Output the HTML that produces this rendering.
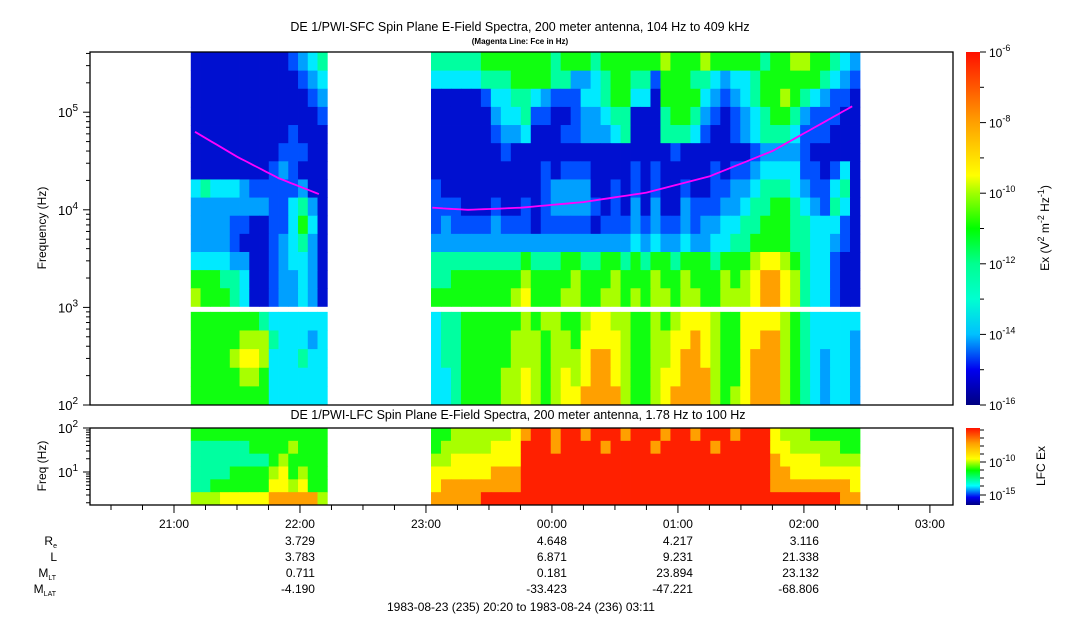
<!DOCTYPE html>
<html><head><meta charset="utf-8">
<style>
html,body{margin:0;padding:0;background:#fff;}
svg{display:block;font-family:"Liberation Sans",sans-serif;}
</style></head>
<body>
<svg id="chart" width="1083" height="620" viewBox="0 0 1083 620" xmlns="http://www.w3.org/2000/svg">
<defs>
<linearGradient id="cbar" x1="0" y1="1" x2="0" y2="0">
<stop offset="0" stop-color="#000080"/><stop offset="0.1" stop-color="#0000f0"/>
<stop offset="0.2" stop-color="#00c0ff"/><stop offset="0.3" stop-color="#00ffd0"/>
<stop offset="0.4" stop-color="#00ff90"/><stop offset="0.5" stop-color="#00ff00"/>
<stop offset="0.6" stop-color="#a0ff00"/><stop offset="0.65" stop-color="#ffff00"/>
<stop offset="0.8" stop-color="#ffa000"/><stop offset="1" stop-color="#ff1000"/>
</linearGradient>
<linearGradient id="cbar2" x1="0" y1="1" x2="0" y2="0">
<stop offset="0" stop-color="#000080"/><stop offset="0.1" stop-color="#0000f0"/>
<stop offset="0.25" stop-color="#00ffff"/><stop offset="0.45" stop-color="#00ff00"/>
<stop offset="0.6" stop-color="#ffff00"/><stop offset="0.8" stop-color="#ffa000"/><stop offset="1" stop-color="#ff1000"/>
</linearGradient>
</defs>
<text x="520" y="31" text-anchor="middle" font-size="12.5">DE 1/PWI-SFC  Spin Plane E-Field Spectra, 200 meter antenna, 104 Hz to 409 kHz</text>
<text x="520" y="44" text-anchor="middle" font-size="8" font-weight="bold">(Magenta Line: Fce in Hz)</text>
<text x="518" y="419" text-anchor="middle" font-size="12.5">DE 1/PWI-LFC  Spin Plane E-Field Spectra, 200 meter antenna, 1.78 Hz to 100 Hz</text>
<g id="heat"></g><g id="lfc"></g><g id="fce"></g><g id="axes"></g>
<text transform="translate(46,228) rotate(-90)" text-anchor="middle" font-size="12">Frequency (Hz)</text>
<text transform="translate(46,466) rotate(-90)" text-anchor="middle" font-size="12">Freq (Hz)</text>
<rect x="966" y="52" width="14" height="353" fill="url(#cbar)"/>
<rect x="966" y="428" width="14" height="77" fill="url(#cbar2)"/>
<text transform="translate(1049,228) rotate(-90)" text-anchor="middle" font-size="12">Ex (V<tspan dy="-5" font-size="9">2</tspan><tspan dy="5"> m</tspan><tspan dy="-5" font-size="9">-2</tspan><tspan dy="5"> Hz</tspan><tspan dy="-5" font-size="9">-1</tspan><tspan dy="5">)</tspan></text>
<text transform="translate(1045,466) rotate(-90)" text-anchor="middle" font-size="12">LFC Ex</text>
<g id="eph" font-size="12"></g>
<text x="521" y="611" text-anchor="middle" font-size="12">1983-08-23 (235) 20:20 to 1983-08-24 (236) 03:11</text>
</svg>
<script>
// ---- data ----
const palette=["#000080","#0010d0","#0050ff","#00a0ff","#00eaff","#00ffa0","#10ff10","#a8ff00","#ffff00","#ffa000","#ff2000"];
const seg1Start=48, seg1End=113, seg2Start=162.4, seg2End=366.7; // minutes after 20:20
const sfcUpper1=["11111111112345","11111111111234","11111111111123","11111111111112","11111111112111","11111111122211","11111111232111","45444322222311","33333333224531","33332211224641","33332111234531","44443311234431","66655411233431","76665411233431"];
const sfcUpper2=[
"5555566666"+"6656665666"+"6667666766"+"6665667766"+"543",
"4444455566"+"6655334566"+"5526665543"+"4456666665"+"432",
"1111124455"+"4322244566"+"4416666432"+"3456676543"+"221",
"1111113445"+"2211233455"+"1115665321"+"2345665322"+"211",
"1111112334"+"1112233345"+"1115554211"+"2345554222"+"111",
"1111111211"+"1111111111"+"1111211111"+"1123333211"+"111",
"1111111111"+"1212221111"+"2121111121"+"2234444221"+"241",
"2111111111"+"1233331121"+"2121121122"+"3345554322"+"451",
"2221112112"+"1233332121"+"3131132223"+"3455665432"+"541",
"2322223222"+"1222221222"+"3232232334"+"4556665544"+"421",
"3333333333"+"3333333333"+"4343343344"+"5566665544"+"321",
"5555555556"+"5556655665"+"6566566656"+"6678876544"+"211",
"5566666667"+"6666766676"+"6676676667"+"6789987544"+"211",
"6666666678"+"6667766776"+"7677677667"+"7789987544"+"211"];
const sfcLower1=["66666665444444","66666777544434","66667887444544","66666776444444","66666666444444"];
const sfcLower2=[
"4556666667"+"6776678877"+"6676788876"+"6888876544"+"444",
"4556666677"+"7677688887"+"6677889876"+"6889976544"+"443",
"4556666677"+"7677789987"+"6677899876"+"6899976543"+"443",
"4456666778"+"7678789987"+"6678899976"+"6899976543"+"443",
"4456666778"+"7678899997"+"6678999976"+"7899976543"+"443"];
const lfc1=["66666666666666","55555566667666","55555555676666","55556666786766","55666666887866","77788888999997"];
const lfc2=["6677777789aa9aa9aaa9aaa9aa9aaa9aaa877766666","677777888aaa9aaaa9aaaa9aaaaa9aaaaa887777766","778888888aaaaaaaaaaaaaaaaaaaaaaaaa988887777","888888999aaaaaaaaaaaaaaaaaaaaaaaaa998888888","899999999aaaaaaaaaaaaaaaaaaaaaaaaa999999998","99999aaaaaaaaaaaaaaaaaaaaaaaaaaaaaaaaaaaa99"];
const fceTimes1=[50,70,90,109], fceVals1=[63000,35000,21000,14500];
const fceTimes2=[163,180,205,235,265,295,325,350,363], fceVals2=[10500,10000,10500,12000,15000,22000,40000,80000,115000];
const hourLabels=["21:00","22:00","23:00","00:00","01:00","02:00","03:00"];
const hourMinutes=[40,100,160,220,280,340,400];
const ephNames=["R","L","M","M"];
const ephSubs=["e","","LT","LAT"];
const ephMinutes=[100,220,280,340];
const ephRe=["3.729","4.648","4.217","3.116"];
const ephL=["3.783","6.871","9.231","21.338"];
const ephMLT=["0.711","0.181","23.894","23.132"];
const ephMLAT=["-4.190","-33.423","-47.221","-68.806"];
// ---- scales ----
const X0=90,X1=953,TMAX=411;
const xs=t=>X0+t*(X1-X0)/TMAX;
const yf=f=>405-(Math.log10(f)-2)*97.6;
const yl=f=>428+(2-Math.log10(f))*44;
const NS="http://www.w3.org/2000/svg";
function mk(tag,attrs,parent){const e=document.createElementNS(NS,tag);for(const k in attrs)e.setAttribute(k,attrs[k]);parent.appendChild(e);return e;}
const heat=document.getElementById('heat'),lfcG=document.getElementById('lfc'),axes=document.getElementById('axes'),fceG=document.getElementById('fce'),eph=document.getElementById('eph');
function drawBlock(rows,t0,t1,yTop,yBot,parent,name){
  const nr=rows.length;
  rows.forEach((row,ri)=>{
    const n=row.length;
    for(let c=0;c<n;c++){
      const xa=xs(t0+(t1-t0)*c/n), xb=xs(t0+(t1-t0)*(c+1)/n);
      const ya=yTop+(yBot-yTop)*ri/nr, yb=yTop+(yBot-yTop)*(ri+1)/nr;
      const r=mk('rect',{x:xa.toFixed(2),y:ya.toFixed(2),width:(xb-xa+0.4).toFixed(2),height:(yb-ya+0.4).toFixed(2),fill:palette[parseInt(row[c],16)]},parent);
      
      
    }
  });
}
drawBlock(sfcUpper1,seg1Start,seg1End,yf(409000),yf(1000)-1,heat,'sfc-cell');
drawBlock(sfcUpper2,seg2Start,seg2End,yf(409000),yf(1000)-1,heat,'sfc-cell');
drawBlock(sfcLower1,seg1Start,seg1End,yf(900),405,heat,'sfc-cell');
drawBlock(sfcLower2,seg2Start,seg2End,yf(900),405,heat,'sfc-cell');
drawBlock(lfc1,seg1Start,seg1End,428,505,lfcG,'lfc-cell');
drawBlock(lfc2,seg2Start,seg2End,428,505,lfcG,'lfc-cell');
function fceLine(ts,vs){
  let d='';
  for(let i=0;i<ts.length-1;i++){
    for(let k=0;k<=10;k++){
      const u=k/10;const t=ts[i]+(ts[i+1]-ts[i])*u;
      const lv=Math.log10(vs[i])+(Math.log10(vs[i+1])-Math.log10(vs[i]))*u;
      d+=(d?'L':'M')+xs(t).toFixed(1)+','+yf(Math.pow(10,lv)).toFixed(1);
    }
  }
  const p=mk('path',{d:d,fill:'none',stroke:'#ff00ff','stroke-width':'1.8'},fceG);
  
  
}
fceLine(fceTimes1,fceVals1);fceLine(fceTimes2,fceVals2);
const f1=mk('rect',{x:X0,y:52,width:X1-X0,height:353,fill:'none',stroke:'#000','stroke-width':'1.3'},axes);


const f2=mk('rect',{x:X0,y:428,width:X1-X0,height:77,fill:'none',stroke:'#000','stroke-width':'1.3'},axes);


for(let d=2;d<=5;d++){
  for(let m=1;m<=9;m++){
    const f=m*Math.pow(10,d); if(f>409000) continue;
    const y=yf(f);
    mk('line',{x1:X0-(m==1?7:4),x2:X0,y1:y,y2:y,stroke:'#000'},axes);
  }
  const y=d==2?405:yf(Math.pow(10,d));
  const t=mk('text',{x:78,y:y+5,'text-anchor':'end','font-size':'13'},axes);
  t.innerHTML='10<tspan dy="-6" font-size="10">'+d+'</tspan>';
  
  
}
[2,3,4,5,6,7,8,9,10,20,30,40,50,60,70,80,90,100].forEach(f=>{
  const y=yl(f);const maj=(f==10||f==100);
  mk('line',{x1:X0-(maj?7:4),x2:X0,y1:y,y2:y,stroke:'#000'},axes);
});
[[1,10],[2,100]].forEach(([e,f])=>{
  const t=mk('text',{x:78,y:yl(f)+5,'text-anchor':'end','font-size':'13'},axes);
  t.innerHTML='10<tspan dy="-6" font-size="10">'+e+'</tspan>';
  
  
});
for(let t=10;t<=TMAX;t+=15){
  const x=xs(t);const maj=((t-40)%60==0);
  mk('line',{x1:x,x2:x,y1:505,y2:505+(maj?8:5),stroke:'#000'},axes);
}
hourLabels.forEach((lab,i)=>{
  const t=mk('text',{x:xs(hourMinutes[i]),y:528,'text-anchor':'middle','font-size':'12'},axes);
  t.textContent=lab;
  
  
});
for(let i=0;i<=10;i++){
  const y=405-i*35.3;
  mk('line',{x1:980,x2:980+(i%2==0?6:4),y1:y,y2:y,stroke:'#000'},axes);
  if(i%2==0){
    const t=mk('text',{x:989,y:y+5,'font-size':'12'},axes);
    t.innerHTML='10<tspan dy="-6" font-size="9">'+(-16+i)+'</tspan>';
    
    
  }
}
[430,438,446,454,470,478,486,502].forEach(y=>mk('line',{x1:980,x2:984,y1:y,y2:y,stroke:'#000'},axes));
[['-10',462],['-15',495]].forEach(([e,y])=>{
  mk('line',{x1:980,x2:986,y1:y,y2:y,stroke:'#000'},axes);
  const t=mk('text',{x:989,y:y+5,'font-size':'12'},axes);
  t.innerHTML='10<tspan dy="-6" font-size="9">'+e+'</tspan>';
  
  
});
const ephRows=[ephRe,ephL,ephMLT,ephMLAT];
const ephY=[545,561,577,593];
ephNames.forEach((n,i)=>{
  const t=mk('text',{x:i<2?57:56,y:ephY[i],'text-anchor':'end'},eph);
  t.innerHTML=n+(ephSubs[i]?'<tspan dy="3" font-size="7">'+ephSubs[i]+'</tspan>':'');
  
  
  ephRows[i].forEach((v,j)=>{
    const tt=mk('text',{x:xs(ephMinutes[j])+15,y:ephY[i],'text-anchor':'end'},eph);
    tt.textContent=v;
    
    
  });
});
</script>
</body></html>
